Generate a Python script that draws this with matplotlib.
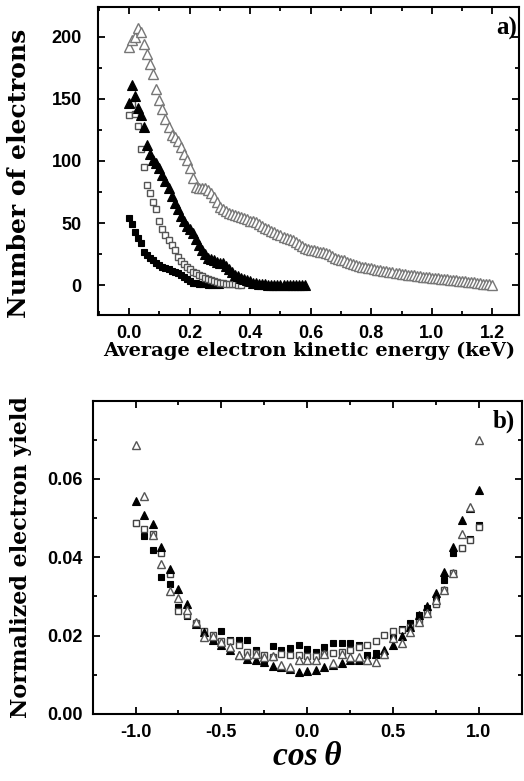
import numpy as np
import matplotlib

matplotlib.use("Agg")

import matplotlib.pyplot as plt  # noqa: E402
from matplotlib.ticker import MultipleLocator  # noqa: E402


# ---- panel a): electron count vs kinetic energy (bins of 0.01 keV starting at 0) ----
ENERGY_STEP = 0.01

open_tri_counts = [
    192, 197, 200, 207, 204, 194, 186, 178, 170, 158,
    149, 142, 134, 127, 121, 119, 116, 111, 106, 101,
    94, 86, 79, 78, 78, 78, 77, 74, 71, 67,
    63, 61, 60, 58.5, 57.5, 56.5, 56, 55, 54, 53,
    52, 51.5, 50.5, 49, 47.5, 46, 45, 44, 42.5, 41,
    40, 39, 38, 37.5, 36, 34.5, 33, 31.5, 30, 29,
    28.5, 28, 27.5, 27, 26.5, 26, 25, 23.5, 22, 21,
    20.5, 20, 19, 18, 17, 16.2, 15.5, 15, 14.5, 14,
    13.5, 13, 12.5, 12, 11.5, 11.2, 10.8, 10.4, 10, 9.6,
    9.2, 8.8, 8.5, 8.1, 7.8, 7.4, 7, 6.8, 6.5, 6.2,
    6, 5.8, 5.5, 5.2, 5, 4.8, 4.5, 4.2, 4, 3.7,
    3.4, 3.1, 2.8, 2.5, 2.2, 1.9, 1.6, 1.3, 1.0, 0.8,
    0.5,
]

filled_tri_counts = [
    147, 161, 152, 143, 137, 127, 113, 106, 101, 98,
    94, 89, 84, 78, 72, 66, 61, 56, 52, 48,
    45, 42, 37, 32, 28, 25, 22, 21, 20, 19,
    18, 17.5, 15.5, 13, 10.5, 8.5, 7, 6, 5, 4,
    3, 2, 1.4, 1, 0.8, 0.6, 0.5, 0.5, 0.4, 0.4,
    0.3, 0.3, 0.3, 0.3, 0.3, 0.3, 0.3, 0.3, 0.3,
]

open_sq_counts = [
    137, 146, 138, 128, 110, 95, 81, 74, 67, 61,
    52, 45, 40, 36, 32, 28, 23, 19.5, 17, 14.7,
    13, 11, 9.6, 8.5, 7, 5.8, 4.8, 3.8, 3, 2.4,
    1.9, 1.5, 1.2, 1, 0.8, 0.6, 0.5, 0.4,
]

filled_sq_counts = [
    54, 49, 43, 38, 34, 27, 24, 21.5, 20, 18,
    16.5, 15, 14, 12.8, 11.5, 10.5, 9.5, 8.5, 6.7, 5,
    3, 2, 1.5, 1, 0.8, 0.6, 0.5, 0.4, 0.3, 0.2,
    0.2,
]

# ---- panel b): normalized yield vs cos(theta), bins -1.0 .. 1.0 step 0.05 ----
cos_bins = np.round(np.arange(-1.0, 1.0001, 0.05), 2)

yield_open_tri = [
    0.0687, 0.0557, 0.0457, 0.0384, 0.0315, 0.0295, 0.0265, 0.0235, 0.0197, 0.0200,
    0.0184, 0.0171, 0.0150, 0.0150, 0.0154, 0.0146, 0.0147, 0.0124, 0.0120, 0.0137,
    0.0137, 0.0137, 0.0154, 0.0129, 0.0154, 0.0146, 0.0146, 0.0139, 0.0133, 0.0153,
    0.0193, 0.0180, 0.0210, 0.0235, 0.0257, 0.0292, 0.0316, 0.0359, 0.0459, 0.0529,
    0.0700,
]

yield_filled_tri = [
    0.0545, 0.0508, 0.0484, 0.0427, 0.0370, 0.0318, 0.0280, 0.0230, 0.0210, 0.0188,
    0.0176, 0.0163, 0.0150, 0.0141, 0.0137, 0.0133, 0.0122, 0.0120, 0.0116, 0.0107,
    0.0110, 0.0112, 0.0120, 0.0124, 0.0129, 0.0137, 0.0137, 0.0139, 0.0154, 0.0163,
    0.0176, 0.0199, 0.0222, 0.0252, 0.0275, 0.0309, 0.0363, 0.0427, 0.0495, 0.0525,
    0.0572,
]

yield_open_sq = [
    0.0488, 0.0472, 0.0459, 0.0412, 0.0357, 0.0263, 0.0252, 0.0233, 0.0212, 0.0201,
    0.0187, 0.0187, 0.0176, 0.0159, 0.0156, 0.0150, 0.0146, 0.0154, 0.0150, 0.0150,
    0.0147, 0.0147, 0.0154, 0.0156, 0.0159, 0.0163, 0.0171, 0.0176, 0.0187, 0.0201,
    0.0212, 0.0214, 0.0222, 0.0235, 0.0261, 0.0280, 0.0316, 0.0359, 0.0423, 0.0444,
    0.0478,
]

yield_filled_sq = [
    0.0488, 0.0454, 0.0418, 0.0349, 0.0332, 0.0272, 0.0250, 0.0231, 0.0210, 0.0193,
    0.0212, 0.0190, 0.0190, 0.0188, 0.0164, 0.0137, 0.0174, 0.0164, 0.0169, 0.0176,
    0.0167, 0.0159, 0.0171, 0.0180, 0.0180, 0.0180, 0.0176, 0.0150, 0.0156, 0.0150,
    0.0197, 0.0218, 0.0233, 0.0252, 0.0270, 0.0295, 0.0342, 0.0410, 0.0425, 0.0446,
    0.0482,
]

TICK_FONT = {"family": "Liberation Sans", "weight": "bold", "size": 13}
LABEL_FONT = {"family": "DejaVu Serif", "weight": "bold"}
PANEL_FONT = {"family": "Liberation Serif", "weight": "bold"}


def _energy_axis(values):
    return np.arange(len(values)) * ENERGY_STEP


def _style_axes(ax, xpad, ypad):
    for spine in ax.spines.values():
        spine.set_linewidth(1.5)
    ax.tick_params(which="both", direction="in", top=True, right=True, width=1.3)
    ax.tick_params(which="major", length=5)
    ax.tick_params(which="minor", length=3)
    ax.tick_params(axis="x", which="major", pad=xpad)
    ax.tick_params(axis="y", which="major", pad=ypad)
    for label in ax.get_xticklabels() + ax.get_yticklabels():
        label.set_fontproperties(TICK_FONT)


fig = plt.figure(figsize=(5.24, 7.81), dpi=100)

# panel a)
ax1 = fig.add_axes([0.1876, 0.5967, 0.8034, 0.3944])
ax1.plot(_energy_axis(filled_sq_counts), filled_sq_counts, "s", ms=5,
         mfc="black", mec="black", mew=0.8)
ax1.plot(_energy_axis(open_sq_counts), open_sq_counts, "s", ms=5,
         mfc="white", mec="#555555", mew=1.0)
ax1.plot(_energy_axis(filled_tri_counts), filled_tri_counts, "^", ms=6.5,
         mfc="black", mec="black", mew=0.8)
ax1.plot(_energy_axis(open_tri_counts), open_tri_counts, "^", ms=6.5,
         mfc="white", mec="#777777", mew=1.0)
ax1.set_xticks([0.0, 0.2, 0.4, 0.6, 0.8, 1.0, 1.2])
ax1.set_xticklabels(["0.0", "0.2", "0.4", "0.6", "0.8", "1.0", "1.2"])
ax1.xaxis.set_minor_locator(MultipleLocator(0.1))
ax1.yaxis.set_major_locator(MultipleLocator(50))
ax1.yaxis.set_minor_locator(MultipleLocator(25))
ax1.set_xlim(-0.102, 1.289)
ax1.set_ylim(-24, 224)
_style_axes(ax1, xpad=7, ypad=12)
ax1.set_xlabel("Average electron kinetic energy (keV)", fontsize=14, labelpad=0, **LABEL_FONT)
ax1.set_ylabel("Number of electrons", fontsize=18, **LABEL_FONT)
ax1.yaxis.set_label_coords(-0.16, 0.461)
ax1.text(0.994, 0.968, "a)", transform=ax1.transAxes, ha="right", va="top",
         fontsize=18, **PANEL_FONT)

# panel b)
ax2 = fig.add_axes([0.1769, 0.0858, 0.8187, 0.4012])
ax2.plot(cos_bins, yield_filled_sq, "s", ms=4.5, mfc="black", mec="black", mew=0.8)
ax2.plot(cos_bins, yield_open_sq, "s", ms=4.5, mfc="white", mec="#444444", mew=1.0)
ax2.plot(cos_bins, yield_filled_tri, "^", ms=6, mfc="black", mec="black", mew=0.8)
ax2.plot(cos_bins, yield_open_tri, "^", ms=6, mfc="white", mec="#555555", mew=1.0)
ax2.set_xlim(-1.25, 1.25)
ax2.set_ylim(0, 0.08)
ax2.set_xticks([-1.0, -0.5, 0.0, 0.5, 1.0])
ax2.set_xticklabels(["-1.0", "-0.5", "0.0", "0.5", "1.0"])
ax2.xaxis.set_minor_locator(MultipleLocator(0.25))
ax2.set_yticks([0.0, 0.02, 0.04, 0.06])
ax2.set_yticklabels(["0.00", "0.02", "0.04", "0.06"])
ax2.yaxis.set_minor_locator(MultipleLocator(0.01))
_style_axes(ax2, xpad=7, ypad=7)
ax2.set_xlabel("cos\u2009θ", fontsize=24, labelpad=0,
               family=["Liberation Serif", "DejaVu Serif"], style="italic", weight="bold")
ax2.set_ylabel("Normalized electron yield", fontsize=16, **LABEL_FONT)
ax2.yaxis.set_label_coords(-0.1415, 0.5)
ax2.text(0.985, 0.97, "b)", transform=ax2.transAxes, ha="right", va="top",
         fontsize=18, **PANEL_FONT)

fig.savefig("out.png", dpi=100)
